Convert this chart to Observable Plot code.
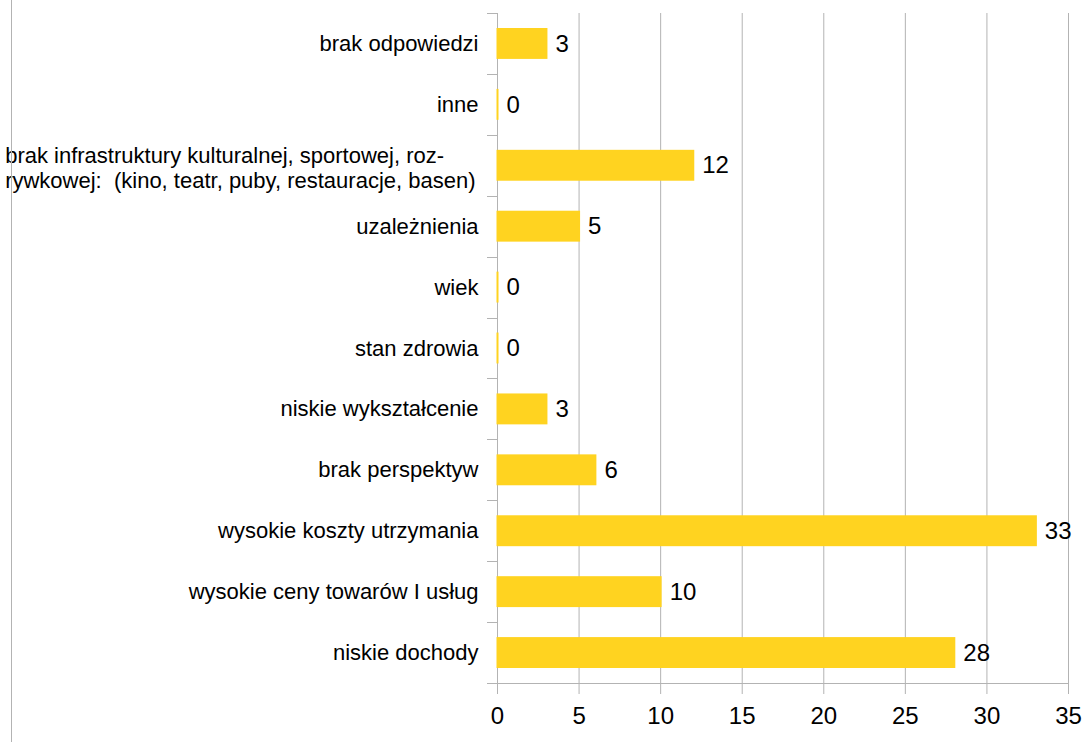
<!DOCTYPE html>
<html><head><meta charset="utf-8">
<script src="https://cdn.jsdelivr.net/npm/d3@7"></script>
<script src="https://cdn.jsdelivr.net/npm/@observablehq/plot@0.6"></script>
<style>
html,body{margin:0;padding:0;background:#fff;}
#wrap{position:relative;width:1088px;height:742px;overflow:hidden;}
#wrap svg{position:absolute;left:0;top:0;overflow:visible;}
#border{position:absolute;left:11px;top:0;width:1px;height:742px;background:#b3b3b3;z-index:2;}
</style></head><body><div id="wrap"><div id="border"></div></div>
<script>
const categories = [
  "brak odpowiedzi",
  "inne",
  "brak infrastruktury kulturalnej, sportowej, roz-\nrywkowej:  (kino, teatr, puby, restauracje, basen)",
  "uzależnienia",
  "wiek",
  "stan zdrowia",
  "niskie wykształcenie",
  "brak perspektyw",
  "wysokie koszty utrzymania",
  "wysokie ceny towarów I usług",
  "niskie dochody"
];
const values = [3, 0, 12, 5, 0, 0, 3, 6, 33, 10, 28];
const xTicks = [0, 5, 10, 15, 20, 25, 30, 35];

const rows = categories.map((c, i) => ({cat: c, value: values[i]}));
const single = rows.filter(d => !d.cat.includes("\n"));
const multi = rows.filter(d => d.cat.includes("\n"));

const FONT = "'Liberation Sans', Arial, sans-serif";
const LABEL_SIZE = 22;
const ctx = document.createElement("canvas").getContext("2d");
ctx.font = LABEL_SIZE + "px 'Liberation Sans'";
const longest = multi.length ? Math.max(...multi[0].cat.split("\n").map(s => ctx.measureText(s).width)) : 0;

const chart = Plot.plot({
  width: 1088,
  height: 742,
  marginTop: 13,
  marginBottom: 59,
  marginLeft: 497,
  marginRight: 20,
  style: {fontFamily: FONT, color: "#000", background: "transparent"},
  x: {domain: [0, 35]},
  y: {domain: categories, padding: 0, round: false, axis: null},
  marks: [
    Plot.gridX(xTicks, {stroke: "#b3b3b3", strokeOpacity: 1}),
    Plot.axisX(xTicks, {tickSize: 11, tickPadding: 12, fontSize: 24, stroke: "#b3b3b3", fill: "#000", label: null, tickFormat: d => String(d)}),
    Plot.ruleX([0], {stroke: "#b3b3b3"}),
    Plot.barX(rows, {x: "value", y: "cat", fill: "#ffd320", insetTop: 15, insetBottom: 15, insetLeft: -0.5, insetRight: -1.5}),
    Plot.text(rows, {x: "value", y: "cat", text: d => String(d.value), textAnchor: "start", dx: 9, fontSize: 24, fill: "#000"}),
    Plot.text(single, {x: 0, y: "cat", text: "cat", textAnchor: "end", dx: -19, fontSize: LABEL_SIZE, fill: "#000"}),
    Plot.text(multi, {x: 0, y: "cat", text: "cat", textAnchor: "start", dx: -22 - longest, dy: 2, lineHeight: 1.1, fontSize: LABEL_SIZE, fill: "#000"})
  ]
});

document.getElementById("wrap").appendChild(chart);

// category boundary ticks on the y axis and the baseline
const ys = chart.scale("y"), xs = chart.scale("x");
const x0 = Math.round(xs.apply(0));
const bounds = categories.map(c => ys.apply(c)).concat([ys.apply(categories[categories.length - 1]) + ys.bandwidth]);
const g = d3.select(chart).append("g").attr("stroke", "#b3b3b3").attr("fill", "none");
g.selectAll("line.b").data(bounds).join("line")
  .attr("x1", x0 - 10).attr("x2", x0 + 0.5)
  .attr("y1", d => Math.round(d) + 0.5).attr("y2", d => Math.round(d) + 0.5);
g.append("line")
  .attr("x1", x0 - 10).attr("x2", Math.round(xs.apply(35)) + 0.5)
  .attr("y1", Math.round(bounds[bounds.length - 1]) + 0.5).attr("y2", Math.round(bounds[bounds.length - 1]) + 0.5);
</script>
</body></html>
